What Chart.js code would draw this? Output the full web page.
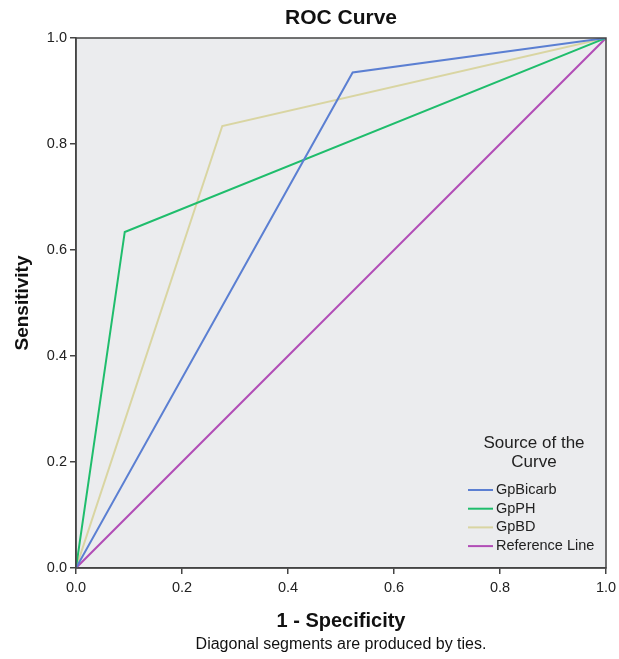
<!DOCTYPE html>
<html>
<head>
<meta charset="utf-8">
<script src="https://cdn.jsdelivr.net/npm/chart.js@4.4.1/dist/chart.umd.min.js"></script>
<style>
  html, body { margin: 0; padding: 0; background: #fff; }
  #wrap { width: 619px; height: 659px; }
</style>
</head>
<body>
<div id="wrap"><canvas id="myChart" width="619" height="659"></canvas></div>
<script>
// ROC 곡선 데이터 (1 - 특이도, 민감도)
const seriesNames = ['GpBicarb', 'GpPH', 'GpBD', 'Reference Line'];
const bicarbX = [0, 0.522, 1];
const bicarbY = [0, 0.935, 1];
const phX = [0, 0.092, 1];
const phY = [0, 0.634, 1];
const bdX = [0, 0.276, 1];
const bdY = [0, 0.834, 1];
const refX = [0, 1];
const refY = [0, 1];
const tickValues = [0, 0.2, 0.4, 0.6, 0.8, 1.0];

const colors = ['#5b7fd2', '#1fbd6c', '#d9d5a2', '#b14db6'];

function toPoints(xs, ys) {
  return xs.map((x, i) => ({ x: x, y: ys[i] }));
}

// 플롯 배경 + 테두리
const plotBox = {
  id: 'plotBox',
  beforeDraw(chart) {
    const { ctx, chartArea: a } = chart;
    ctx.save();
    ctx.fillStyle = '#ebecee';
    ctx.fillRect(a.left, a.top, a.right - a.left, a.bottom - a.top);
    ctx.restore();
  },
  afterDraw(chart) {
    const { ctx, chartArea: a } = chart;
    ctx.save();
    ctx.strokeStyle = '#444';
    ctx.lineWidth = 1.5;
    ctx.strokeRect(a.left, a.top, a.right - a.left, a.bottom - a.top);
    ctx.restore();
  }
};

// 범례 (플롯 안 오른쪽 아래)
const insideLegend = {
  id: 'insideLegend',
  afterDraw(chart) {
    const { ctx, chartArea: a } = chart;
    ctx.save();
    ctx.fillStyle = '#222';
    ctx.textAlign = 'center';
    ctx.textBaseline = 'middle';
    ctx.font = '17px "Liberation Sans", Arial, sans-serif';
    const cx = a.right - 72;
    ctx.fillText('Source of the', cx, a.bottom - 125);
    ctx.fillText('Curve', cx, a.bottom - 106);
    ctx.font = '14.5px "Liberation Sans", Arial, sans-serif';
    ctx.textAlign = 'left';
    chart.data.datasets.forEach((ds, i) => {
      const y = a.bottom - 78 + i * 18.7;
      ctx.strokeStyle = ds.borderColor;
      ctx.lineWidth = 2;
      ctx.beginPath();
      ctx.moveTo(a.right - 138, y);
      ctx.lineTo(a.right - 113, y);
      ctx.stroke();
      ctx.fillText(ds.label, a.right - 110, y);
    });
    ctx.restore();
  }
};

const chartArea = document.getElementById('myChart').getContext('2d');
const fontFamily = '"Liberation Sans", Arial, sans-serif';

const myChart = new Chart(chartArea, {
  type: 'line',
  data: {
    datasets: [
      { label: seriesNames[0], data: toPoints(bicarbX, bicarbY), borderColor: colors[0] },
      { label: seriesNames[1], data: toPoints(phX, phY), borderColor: colors[1] },
      { label: seriesNames[2], data: toPoints(bdX, bdY), borderColor: colors[2] },
      { label: seriesNames[3], data: toPoints(refX, refY), borderColor: colors[3] }
    ].map(ds => Object.assign(ds, { borderWidth: 2, pointRadius: 0, tension: 0, fill: false }))
  },
  plugins: [plotBox, insideLegend],
  options: {
    responsive: false,
    animation: false,
    layout: { padding: { left: 0, right: 13, top: 0, bottom: 0 } },
    plugins: {
      legend: { display: false },
      tooltip: { enabled: false },
      title: {
        display: true,
        fullSize: false,
        text: 'ROC Curve',
        color: '#111',
        font: { family: fontFamily, size: 21, weight: 'bold' },
        padding: { top: 5.4, bottom: 7.4 }
      },
      subtitle: {
        display: true,
        fullSize: false,
        position: 'bottom',
        text: 'Diagonal segments are produced by ties.',
        color: '#111',
        font: { family: fontFamily, size: 16 },
        padding: { top: 0, bottom: 4.4 }
      }
    },
    scales: {
      x: {
        type: 'linear',
        min: 0, max: 1,
        afterBuildTicks(scale) { scale.ticks = tickValues.map(v => ({ value: v })); },
        afterFit(scale) {
          scale.height = 67.4;
          scale.paddingLeft = 0;
          scale.paddingRight = 0;
        },
        ticks: {
          color: '#222',
          font: { family: fontFamily, size: 14.5 },
          padding: 5,
          maxRotation: 0,
          callback: v => v.toFixed(1)
        },
        grid: { drawOnChartArea: false, tickLength: 6, color: '#444', lineWidth: 1.5 },
        border: { color: '#444', width: 1.5 },
        title: {
          display: true,
          text: '1 - Specificity',
          color: '#111',
          font: { family: fontFamily, size: 20, weight: 'bold' },
          padding: { top: 10, bottom: 2.4 }
        }
      },
      y: {
        type: 'linear',
        min: 0, max: 1,
        afterBuildTicks(scale) { scale.ticks = tickValues.map(v => ({ value: v })); },
        afterFit(scale) {
          scale.width = 76;
          scale.paddingTop = 0;
          scale.paddingBottom = 0;
        },
        ticks: {
          color: '#222',
          font: { family: fontFamily, size: 14.5 },
          padding: 3,
          callback: v => v.toFixed(1)
        },
        grid: { drawOnChartArea: false, tickLength: 6, color: '#444', lineWidth: 1.5 },
        border: { color: '#444', width: 1.5 },
        title: {
          display: true,
          text: 'Sensitivity',
          color: '#111',
          font: { family: fontFamily, size: 19, weight: 'bold' },
          padding: { top: 11, bottom: 4 }
        }
      }
    }
  }
});
</script>
</body>
</html>
